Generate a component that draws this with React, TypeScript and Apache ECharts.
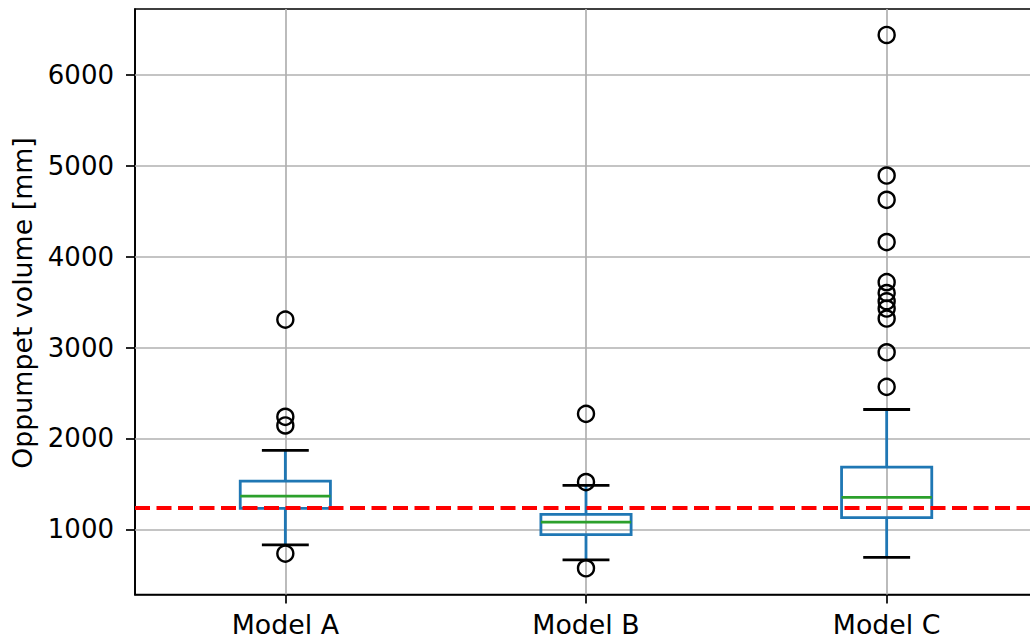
import React, { useEffect, useRef } from 'react';
import * as echarts from 'echarts';

const categories = ['Model A', 'Model B', 'Model C'];
const whiskerLow = [828, 663, 692];
const quartile1 = [1231, 942, 1128];
const medians = [1366, 1080, 1352];
const quartile3 = [1531, 1165, 1685];
const whiskerHigh = [1868, 1484, 2319];
const outliersA = [3308, 2238, 2143, 733];
const outliersB = [2271, 1520, 571];
const outliersC = [6440, 4893, 4626, 4161, 3720, 3600, 3510, 3430, 3320, 2948, 2568];
const yTicks = [1000, 2000, 3000, 4000, 5000, 6000];
const referenceLevel = 1240;
const yMin = 283;
const yMax = 6726;
const yLabel = 'Oppumpet volume [mm]';

const FONT = 'DejaVu Sans';
const BLUE = '#1f77b4';
const GREEN = '#2ca02c';
const GRID_GRAY = '#b0b0b0';

export default function App() {
  const ref = useRef<HTMLDivElement>(null);

  useEffect(() => {
    if (!ref.current) return;
    const chart = echarts.init(ref.current, null, { renderer: 'svg' });

    const boxData = categories.map((_, i) => [
      i,
      whiskerLow[i],
      quartile1[i],
      medians[i],
      quartile3[i],
      whiskerHigh[i],
    ]);
    const outlierSets = [outliersA, outliersB, outliersC];
    const outlierData: any[] = [];
    outlierSets.forEach((set, i) => set.forEach((v) => outlierData.push([categories[i], v])));

    const option: any = {
      animation: false,
      grid: {
        left: 135,
        right: 0,
        top: 9,
        bottom: 43.5,
        show: true,
        borderColor: '#000',
        borderWidth: 1.7,
        backgroundColor: 'transparent',
      },
      xAxis: {
        type: 'category',
        data: categories,
        boundaryGap: true,
        axisLine: { show: true, lineStyle: { color: '#000', width: 1.7 } },
        axisTick: { show: true, alignWithLabel: true, length: 9, lineStyle: { color: '#000', width: 1.7 } },
        axisLabel: { color: '#000', fontSize: 26.8, fontFamily: FONT, margin: 16 },
        splitLine: { show: false },
      },
      yAxis: {
        type: 'value',
        min: yMin,
        max: yMax,
        axisLine: { show: true, lineStyle: { color: '#000', width: 1.7 } },
        axisTick: { show: true, length: 9, customValues: yTicks, lineStyle: { color: '#000', width: 1.7 } },
        axisLabel: {
          color: '#000',
          fontSize: 26,
          fontFamily: FONT,
          margin: 21,
          customValues: yTicks,
          formatter: (v: number) => String(v),
        },
        splitLine: { show: false },
      },
      graphic: [
        {
          type: 'text',
          x: 22,
          y: 303,
          rotation: Math.PI / 2,
          style: {
            text: yLabel,
            fontSize: 26.8,
            fontFamily: FONT,
            fill: '#000',
            textAlign: 'center',
            textVerticalAlign: 'middle',
          },
        },
      ],
      series: [
        {
          type: 'line',
          data: [],
          z: 1,
          silent: true,
          markLine: {
            z: 1,
            silent: true,
            symbol: 'none',
            animation: false,
            label: { show: false },
            emphasis: { disabled: true },
            lineStyle: { color: GRID_GRAY, width: 1.7, type: 'solid' },
            data: [
              ...categories.map((c) => ({ xAxis: c })),
              ...yTicks.map((t) => ({ yAxis: t })),
            ],
          },
        },
        {
          type: 'custom',
          z: 3,
          silent: true,
          data: boxData,
          encode: { x: 0, y: [1, 2, 3, 4, 5] },
          renderItem: (params: any, api: any) => {
            const idx = api.value(0);
            const band = api.size([1, 0])[0];
            const cx = api.coord([idx, api.value(3)])[0];
            const yLow = api.coord([idx, api.value(1)])[1];
            const yQ1 = api.coord([idx, api.value(2)])[1];
            const yMed = api.coord([idx, api.value(3)])[1];
            const yQ3 = api.coord([idx, api.value(4)])[1];
            const yHigh = api.coord([idx, api.value(5)])[1];
            const hw = band * 0.15;
            const cw = band * 0.078;
            const lw = 2.8;
            return {
              type: 'group',
              children: [
                { type: 'line', shape: { x1: cx, y1: yQ1, x2: cx, y2: yLow }, style: { stroke: BLUE, lineWidth: lw } },
                { type: 'line', shape: { x1: cx, y1: yQ3, x2: cx, y2: yHigh }, style: { stroke: BLUE, lineWidth: lw } },
                {
                  type: 'rect',
                  shape: { x: cx - hw, y: yQ3, width: hw * 2, height: yQ1 - yQ3 },
                  style: { fill: 'none', stroke: BLUE, lineWidth: lw },
                },
                { type: 'line', shape: { x1: cx - hw, y1: yMed, x2: cx + hw, y2: yMed }, style: { stroke: GREEN, lineWidth: lw } },
                { type: 'line', shape: { x1: cx - cw, y1: yLow, x2: cx + cw, y2: yLow }, style: { stroke: '#000', lineWidth: lw } },
                { type: 'line', shape: { x1: cx - cw, y1: yHigh, x2: cx + cw, y2: yHigh }, style: { stroke: '#000', lineWidth: lw } },
              ],
            };
          },
        },
        {
          type: 'scatter',
          z: 4,
          silent: true,
          data: outlierData,
          symbol: 'circle',
          symbolSize: 16,
          itemStyle: { color: 'rgba(0,0,0,0)', borderColor: '#000', borderWidth: 2.4, opacity: 1 },
        },
        {
          type: 'line',
          data: [],
          z: 10,
          silent: true,
          markLine: {
            z: 10,
            silent: true,
            symbol: 'none',
            animation: false,
            label: { show: false },
            emphasis: { disabled: true },
            lineStyle: { color: '#ff0000', width: 4, type: [15, 6.5] },
            data: [{ yAxis: referenceLevel }],
          },
        },
      ],
    };

    chart.setOption(option);
    return () => chart.dispose();
  }, []);

  return (
    <div style={{ position: 'absolute', left: 0, top: 0, width: 1030, height: 638, overflow: 'hidden', background: '#fff' }}>
      <div ref={ref} style={{ width: 1037, height: 638 }} />
    </div>
  );
}
